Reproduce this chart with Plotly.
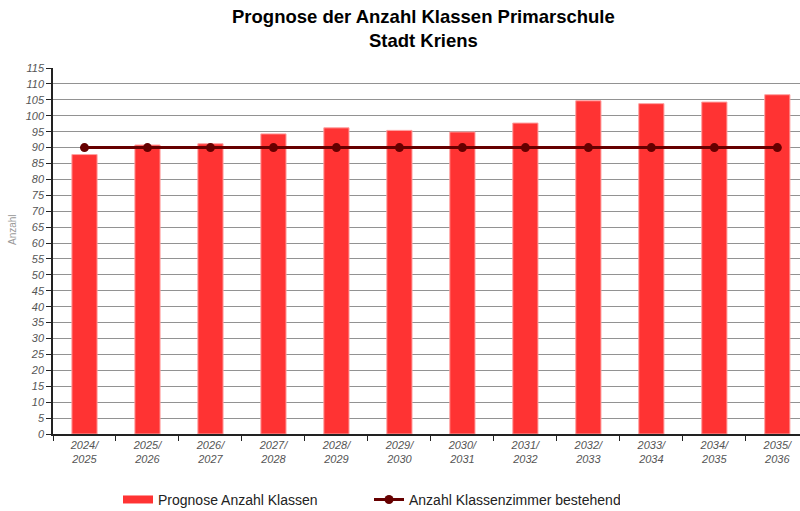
import plotly.graph_objects as go

categories = ["2024/<br>2025", "2025/<br>2026", "2026/<br>2027", "2027/<br>2028", "2028/<br>2029",
              "2029/<br>2030", "2030/<br>2031", "2031/<br>2032", "2032/<br>2033", "2033/<br>2034",
              "2034/<br>2035", "2035/<br>2036"]
prognose = [87.8, 90.8, 91.2, 94.3, 96.2, 95.4, 94.9, 97.7, 104.7, 103.8, 104.3, 106.6]
zimmer = [90] * 12

font = "Liberation Sans, Arial, sans-serif"
bar_color = "rgb(255,51,51)"
line_color = "rgb(102,0,0)"

fig = go.Figure()
fig.add_trace(go.Bar(
    x=categories, y=prognose, name="Prognose Anzahl Klassen",
    marker=dict(color=bar_color, line=dict(color="rgba(255,160,160,1)", width=1)),
    width=0.4, showlegend=False, legendgroup="p",
))
# legend proxy (wide rectangle symbol like the reference)
fig.add_trace(go.Scatter(
    x=[None], y=[None], name="Prognose Anzahl Klassen", mode="lines",
    line=dict(color=bar_color, width=8), legendgroup="p",
))
fig.add_trace(go.Scatter(
    x=categories, y=zimmer, name="Anzahl Klassenzimmer bestehend",
    mode="lines+markers",
    line=dict(color=line_color, width=3),
    marker=dict(color=line_color, size=9),
))

fig.update_layout(
    width=800, height=511,
    margin=dict(l=53, r=0, t=68, b=77, autoexpand=False),
    paper_bgcolor="white", plot_bgcolor="white",
    font=dict(family=font, color="#555"),
    showlegend=True,
    legend=dict(
        orientation="h", x=(118 - 53) / 747, xanchor="left", y=-0.18, yanchor="middle",
        font=dict(family=font, size=14, color="#222"),
        entrywidth=206, traceorder="normal",
    ),
    annotations=[
        dict(
            text="<b>Prognose der Anzahl Klassen Primarschule<br>Stadt Kriens</b>",
            xref="paper", yref="paper", x=(423 - 53) / 747, y=1 + (68 - 4) / 366,
            xanchor="center", yanchor="top", showarrow=False,
            font=dict(family=font, size=18.5, color="black"),
        ),
        dict(
            text="Anzahl", textangle=-90,
            xref="paper", yref="paper", x=(12 - 53) / 747, y=(434 - 230) / 366,
            xanchor="center", yanchor="middle", showarrow=False,
            font=dict(family=font, size=10, color="#999"),
        ),
    ],
)
fig.update_xaxes(
    range=[-0.5, 11.36], automargin=False,
    showline=True, linecolor="#222", linewidth=1.5,
    ticks="outside", ticklen=5, tickcolor="#222", tickson="boundaries",
    tickfont=dict(family=font, size=11, color="#555", style="italic"),
    showgrid=False,
    layer="above traces",
)
fig.update_yaxes(
    range=[0, 115], dtick=5, tick0=0, automargin=False,
    showline=True, linecolor="#222", linewidth=1.5,
    ticks="outside", ticklen=5, tickcolor="#222",
    tickfont=dict(family=font, size=11, color="#555", style="italic"),
    showgrid=True, gridcolor="rgba(110,110,110,0.75)", gridwidth=1,
    zeroline=False,
    layer="above traces",
)

fig.write_html(
    "out.html",
    config={"displayModeBar": False},
    post_script="document.body.style.margin='0';document.body.style.overflow='hidden';",
)
